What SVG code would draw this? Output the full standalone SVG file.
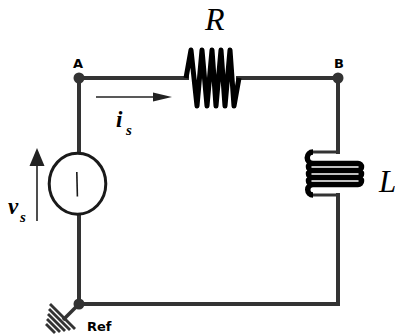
<svg xmlns="http://www.w3.org/2000/svg" width="395" height="336" viewBox="0 0 395 336">
<style>
.wire{fill:none;stroke:#333;stroke-width:4;stroke-linecap:square}
.comp{fill:none;stroke:#000;stroke-linejoin:round}
.dot{fill:#333}
.lbl{font-family:"DejaVu Sans",sans-serif;font-weight:bold;font-size:13px;fill:#000}
.var{font-family:"Liberation Serif",serif;font-style:italic;fill:#000}
.arr{stroke:#222;stroke-width:1.6;fill:none}
</style>
<defs>
<radialGradient id="ball" cx="0.35" cy="0.35" r="0.7">
<stop offset="0" stop-color="#777"/>
<stop offset="1" stop-color="#2a2a2a"/>
</radialGradient>
</defs>
<g id="connectors">
<path class="wire" d="M79,152 V78 H187"/>
<path class="wire" d="M238,78 H338 V152"/>
<path class="wire" d="M338,195 V304 H79 V216"/>
</g>
<g id="R">
<path class="comp" stroke-width="5" d="M186,78 L191,50 L197,106 L202,50 L207,106 L212,50 L216,106 L221,50 L225,106 L230,50 L234,106 L239,78"/>
<text class="var" x="205" y="30" font-size="32">R</text>
</g>
<g id="L">
<path fill="none" stroke="#333" stroke-width="3" d="M338,152 H313"/>
<path class="comp" stroke-width="5.5" d="M313,152 A5.75,5.75 0 0 0 313,163.5 H358 A3.5,3.5 0 0 1 358,170.5 H312 A3.5,3.5 0 0 1 312,163.5 M312,170.5 H358 A3.5,3.5 0 0 1 358,177.5 H312 A3.5,3.5 0 0 1 312,170.5 M312,177.5 H358 A3.5,3.5 0 0 1 358,184.5 H312 A3.5,3.5 0 0 1 312,177.5 M313,184.5 A5.25,5.25 0 0 0 313,195"/>
<path fill="none" stroke="#333" stroke-width="3" d="M313,195 H338"/>
<text class="var" x="379" y="192" font-size="31">L</text>
</g>
<g id="Vs">
<ellipse cx="77.5" cy="183.7" rx="28.3" ry="30.5" fill="#fff" stroke="#1a1a1a" stroke-width="3"/>
<line x1="76.8" y1="172" x2="77.4" y2="196.5" stroke="#1a1a1a" stroke-width="1.6"/>
<line class="arr" x1="37" y1="221" x2="37" y2="162"/>
<polygon points="37,148 29.5,166 44.5,166" fill="#222"/>
<text class="var" font-weight="bold" x="8" y="214" font-size="23">v</text>
<text class="var" font-weight="bold" x="20" y="222" font-size="15">s</text>
</g>
<g id="is">
<line class="arr" x1="96" y1="97" x2="156" y2="97"/>
<polygon points="172,97 153,92.5 153,101.5" fill="#222"/>
<text class="var" font-weight="bold" x="116" y="127" font-size="23">i</text>
<text class="var" font-weight="bold" x="126" y="135" font-size="15">s</text>
</g>
<g id="A">
<circle class="dot" cx="79" cy="78" r="5.5" fill="url(#ball)"/>
<text class="lbl" x="78" y="68" text-anchor="middle">A</text>
</g>
<g id="B">
<circle class="dot" cx="338" cy="78" r="5.5" fill="url(#ball)"/>
<text class="lbl" x="339" y="68" text-anchor="middle">B</text>
</g>
<g id="Ref">
<path stroke="#333" stroke-width="3.5" d="M79,304 L63,320" fill="none"/>
<g stroke="#333" stroke-width="2.8" fill="none">
<line x1="50" y1="304" x2="75" y2="329"/>
<line x1="49" y1="309" x2="70" y2="330"/>
<line x1="48" y1="314" x2="65" y2="331"/>
<line x1="47" y1="319" x2="60" y2="332"/>
<line x1="46" y1="324" x2="55" y2="333"/>
</g>
<circle class="dot" cx="79" cy="304" r="5.5" fill="url(#ball)"/>
<text class="lbl" x="87" y="331" font-size="14">Ref</text>
</g>
</svg>
